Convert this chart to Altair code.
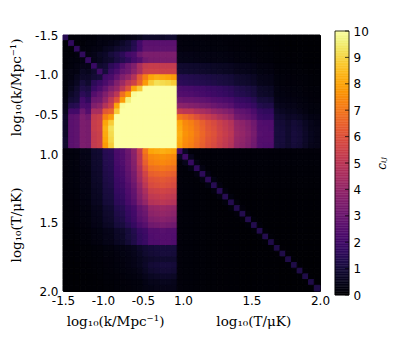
import altair as alt
import pandas as pd

# upper triangle of the k-k block, each row starts at its diagonal cell
kk_rows = [
 [1.4,.1,.1,.1,.1,.1,.2,.2,.2,.2,.2,.3,.4,.5,.7,.7,.7,.7,.8,.8],
 [1.6,.1,.1,.2,.2,.3,.3,.4,.5,.7,.9,1.3,2.0,2.6,2.6,2.6,2.6,2.6,2.6],
 [1.6,.2,.2,.3,.3,.5,.6,.8,.9,1.0,1.4,2.0,2.7,2.7,2.7,2.7,2.7,2.7],
 [1.6,.3,.4,.6,.7,1.0,1.2,1.5,2.0,2.2,3.0,3.4,3.4,3.4,3.4,3.4,3.4],
 [1.7,.4,.5,.7,.8,1.1,1.3,1.6,2.1,2.4,3.1,3.3,3.3,3.3,3.3,3.3],
 [1.8,.8,.9,1.5,1.8,2.4,3.0,3.5,4.5,5.2,5.3,5.3,5.2,5.2,5.2],
 [1.9,1.0,1.8,2.2,2.8,3.1,3.8,4.5,5.4,5.5,5.5,5.4,5.4,5.4],
 [2.0,2.2,2.8,3.5,4.0,4.8,6.2,7.2,8.0,8.2,8.1,8.0,7.8],
 [2.7,3.5,4.2,5.0,5.5,6.5,7.8,8.8,9.2,9.1,9.0,8.8],
 [4.0,5.0,6.0,8.0,8.8,10,10,10,10,10,10],
 [6.8,7.8,9.9,10,10,10,10,10,10,10],
 [9.6,10,10,10,10,10,10,10,10],
 [10,10,10,10,10,10,10,10],
 [10,10,10,10,10,10,10],
 [10,10,10,10,10,10],
 [10,10,10,10,10],
 [10,10,10,10],
 [10,10,10],
 [10,10],
 [10],
]

# k rows (top to bottom) against T columns (left to right)
kt_rows = [
 [.15,.15,.15,.14,.14,.13,.12,.12,.11,.1,.09,.08,.07,.06,.05,.04,.03,.03,.02,.02,.02,.01,.01,.01,.01],
 [.22,.2,.2,.2,.19,.18,.17,.17,.15,.14,.13,.12,.1,.09,.07,.06,.05,.04,.04,.03,.03,.02,.02,.02,.02],
 [.24,.23,.22,.22,.2,.2,.19,.18,.17,.15,.14,.13,.12,.1,.08,.07,.06,.05,.04,.04,.03,.03,.02,.02,.02],
 [.38,.36,.36,.34,.32,.3,.3,.28,.26,.25,.2,.19,.18,.16,.12,.11,.1,.07,.06,.05,.05,.04,.03,.03,.02],
 [.4,.38,.38,.36,.34,.32,.3,.3,.28,.26,.22,.2,.19,.17,.13,.12,.1,.07,.06,.06,.05,.04,.03,.03,.03],
 [.8,.78,.76,.74,.7,.68,.65,.6,.58,.55,.45,.42,.4,.36,.25,.24,.22,.12,.1,.09,.08,.07,.05,.04,.04],
 [.85,.82,.8,.78,.75,.72,.68,.65,.6,.58,.48,.45,.42,.38,.28,.26,.24,.14,.12,.1,.09,.08,.06,.05,.04],
 [1.4,1.35,1.3,1.25,1.2,1.15,1.1,1.05,1.0,.95,.8,.75,.7,.62,.42,.4,.38,.2,.17,.15,.14,.12,.1,.08,.07],
 [1.5,1.45,1.4,1.35,1.3,1.25,1.2,1.1,1.05,1.0,.85,.8,.75,.66,.45,.42,.4,.22,.18,.16,.15,.13,.1,.08,.07],
 [2.2,2.15,2.1,2.0,1.95,1.85,1.8,1.7,1.6,1.5,1.3,1.2,1.1,1.0,.7,.65,.6,.3,.25,.22,.2,.18,.14,.12,.1],
 [2.4,2.35,2.3,2.2,2.1,2.0,1.9,1.8,1.7,1.6,1.4,1.3,1.2,1.05,.75,.7,.65,.32,.28,.24,.22,.2,.15,.13,.1],
 [3.0,2.9,2.9,2.8,2.7,2.6,2.4,2.3,2.2,2.1,1.8,1.7,1.6,1.4,1.0,1.0,.9,.4,.35,.3,.3,.25,.2,.16,.14],
 [3.8,3.7,3.6,3.5,3.3,3.2,3.0,2.8,2.7,2.5,2.1,2.0,1.9,1.7,1.3,1.2,1.2,.5,.45,.4,.4,.3,.25,.2,.18],
 [5.2,5.0,5.0,4.7,4.5,4.3,4.0,3.8,3.6,3.4,2.8,2.7,2.5,2.2,1.7,1.6,1.6,.7,.6,.5,.5,.4,.3,.2,.2],
 [7.0,6.7,6.4,6.0,5.6,5.3,5.0,4.6,4.3,4.0,3.2,3.0,2.8,2.5,1.9,1.8,1.8,.85,.8,.65,.7,.6,.45,.35,.3],
 [8.0,7.4,7.2,6.8,6.4,6.0,5.8,5.4,5.1,4.8,4.0,3.8,3.5,3.1,2.4,2.3,2.3,.95,.9,.75,.9,.8,.6,.45,.35],
 [8.1,7.5,7.3,6.9,6.5,6.1,5.9,5.5,5.2,4.9,4.1,3.9,3.6,3.2,2.4,2.4,2.3,1.0,.95,.8,.95,.85,.65,.45,.4],
 [8.2,7.6,7.4,7.0,6.6,6.2,6.0,5.6,5.3,5.0,4.2,4.0,3.7,3.3,2.5,2.4,2.4,1.0,1.0,.8,1.0,.9,.7,.5,.4],
 [8.1,7.5,7.3,6.9,6.5,6.1,5.9,5.5,5.2,4.9,4.1,3.9,3.6,3.2,2.4,2.4,2.4,1.0,1.0,.8,1.0,.9,.7,.5,.4],
 [8.0,7.4,7.2,6.8,6.4,6.0,5.8,5.4,5.1,4.8,4.0,3.8,3.5,3.1,2.4,2.3,2.3,1.0,.95,.8,.95,.85,.65,.45,.4],
]

# T-T block: the bright cell on the diagonal and the faint cell next to it
tt_diagonal = [2.0,1.9,1.7,1.6,1.5,1.5,1.4,1.4,1.4,1.3,1.3,1.3,1.3,1.3,1.3,1.3,1.2,1.2,1.2,1.2,1.2,1.2,1.2,1.2,1.2]
tt_near = [.6,.45,.35,.3,.3,.28,.25,.22,.2,.18,.15,.14,.12,.1,.08,.08,.06,.05,.05,.04,.04,.04,.03,.03]
tt_far = [.25,.2,.2,.18,.16,.14,.12,.1,.1,.08,.07,.06,.05,.05,.04,.04,.03,.03,.02,.02,.02,.02,.02,.02,.02]

tick_cells = [0, 7, 14, 21, 33, 45]
tick_names = ["-1.5", "-1.0", "-0.5", "1.0", "1.5", "2.0"]
bar_levels = [i / 16 for i in range(161)]
bar_ticks = list(range(11))
axis_texts = ["log₁₀(k/Mpc⁻¹)", "log₁₀(T/μK)"]
axis_text_cells = [9.2, 33.4]

cells = []
def add(i, j, v):
    cells.append({"c": j, "c2": j + 1, "r": i, "r2": i + 1, "v": v})
for i, row in enumerate(kk_rows):
    for off, v in enumerate(row):
        add(i, i + off, v)
        if off:
            add(i + off, i, v)
for i, row in enumerate(kt_rows):
    for t, v in enumerate(row):
        add(i, 20 + t, v)
        add(20 + t, i, v)
for a in range(25):
    for b in range(25):
        if a == b:
            v = tt_diagonal[a]
        elif abs(a - b) == 1:
            v = tt_near[min(a, b)]
        else:
            v = tt_far[min(a, b)] * 0.5
        add(20 + a, 20 + b, v)
df = pd.DataFrame(cells)

labelexpr = "{" + ",".join(f"'{c}':'{n}'" for c, n in zip(tick_cells, tick_names)) + "}[datum.value]"
color_scale = alt.Scale(scheme="inferno", domain=[0, 10], clamp=True)
color = alt.Color("v:Q", legend=None, scale=color_scale)
stroke = alt.Stroke("v:Q", legend=None, scale=color_scale)
sx = alt.Scale(domain=[0, 45], nice=False, zero=False)
sy = alt.Scale(domain=[45, 0], nice=False, zero=False)

heat = alt.Chart(df).mark_rect(strokeWidth=1).encode(
    x=alt.X("c:Q", scale=sx, title=None,
            axis=alt.Axis(values=tick_cells, labelExpr=labelexpr, grid=False, ticks=False,
                          domain=False, labelFontSize=12, labelColor="black", labelPadding=4,
                          labelFont="DejaVu Sans", labelFlush=False, labelOverlap=False)),
    x2="c2:Q",
    y=alt.Y("r:Q", scale=sy, title=None,
            axis=alt.Axis(values=tick_cells, labelExpr=labelexpr, grid=False, ticks=False,
                          domain=False, labelFontSize=12, labelColor="black", labelPadding=5,
                          labelFont="DejaVu Sans", labelFlush=False, labelOverlap=False)),
    y2="r2:Q",
    color=color,
    stroke=stroke,
)

txt = pd.DataFrame({"cell": axis_text_cells, "t": axis_texts})
xt = alt.Chart(txt).mark_text(font="DejaVu Serif", fontSize=13.5, baseline="middle", color="black").encode(
    x=alt.X("cell:Q", scale=sx), y=alt.value(287), text="t:N")
yt = alt.Chart(txt).mark_text(font="DejaVu Serif", fontSize=13.5, baseline="middle", angle=270, color="black").encode(
    y=alt.Y("cell:Q", scale=sy, axis=None), x=alt.value(-46), text="t:N")

bar_scale = alt.Scale(domain=[0, 10], range=[260, -4], nice=False, zero=False)
bar_df = pd.DataFrame({"v": bar_levels[:-1], "v2": bar_levels[1:]})
bar = alt.Chart(bar_df).mark_rect(strokeWidth=0.5).encode(
    x=alt.value(272), x2=alt.value(286),
    y=alt.Y("v:Q", scale=bar_scale, title=None,
            axis=alt.Axis(orient="right", values=bar_ticks, offset=29, ticks=False, domain=False,
                          grid=False, labelFontSize=12, labelColor="black", labelPadding=4,
                          labelFont="DejaVu Sans", labelFlush=False, labelOverlap=False,
                          title="cᵢⱼ", titleFont="DejaVu Serif", titleFontStyle="italic", titleFontWeight="normal",
                          titleFontSize=12, titleColor="black", titlePadding=20, titleAngle=270)),
    y2="v2:Q",
    color=color,
    stroke=stroke,
)
bar_tick_df = pd.DataFrame({"v": bar_ticks})
bar_ticks_layer = alt.Chart(bar_tick_df).mark_rule(color="black", strokeWidth=0.7).encode(
    x=alt.value(282), x2=alt.value(286), y=alt.Y("v:Q", scale=bar_scale, axis=None))
bar_frame = alt.Chart(pd.DataFrame({"a": [0], "b": [10]})).mark_rect(
    fill=None, stroke="black", strokeWidth=0.8).encode(
    x=alt.value(272), x2=alt.value(286),
    y=alt.Y("a:Q", scale=bar_scale, axis=None), y2="b:Q")

chart = alt.layer(heat, xt, yt, bar, bar_ticks_layer, bar_frame).resolve_scale(
    y="independent", color="shared", stroke="shared"
).properties(
    width=257, height=256,
    autosize=alt.AutoSizeParams(type="none"),
    padding={"left": 55, "top": 27, "right": 70, "bottom": 40},
).configure_view(stroke="black", strokeWidth=1)
chart.save("out.html", embed_options={"renderer": "svg", "actions": False})
